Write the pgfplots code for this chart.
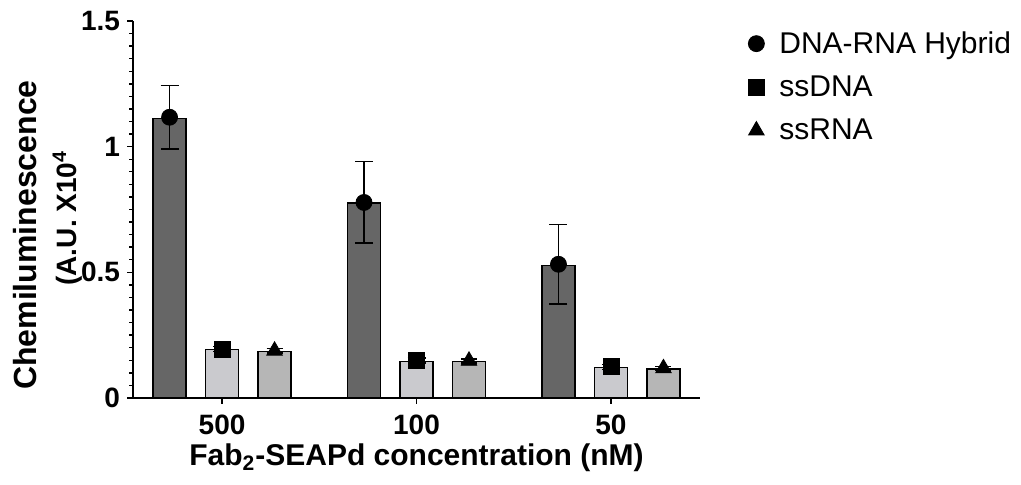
\documentclass[border=0pt]{standalone}
\usepackage{pgfplots}
\pgfplotsset{compat=1.18}
\usepackage{fontspec}
\setmainfont{Liberation Sans}
\definecolor{hyb}{RGB}{102,102,102}
\definecolor{sdna}{RGB}{202,202,206}
\definecolor{srna}{RGB}{182,182,182}
\begin{document}
\begin{tikzpicture}
\useasboundingbox (0,0) rectangle (510.5pt,242.5pt);
\begin{axis}[
    at={(66.5pt,43.5pt)}, anchor=south west,
    scale only axis, width=283.5pt, height=188.5pt,
    xmin=-0.458, xmax=2.458, ymin=0, ymax=1.5,
    axis lines=left,
    axis line style={line width=1pt, -},
    xtick={0,1,2}, xticklabels={500,100,50},
    ytick={0,0.5,1,1.5}, minor y tick num=9,
    tick align=outside,
    major tick length=3pt, minor tick length=2pt,
    every tick/.style={black, line width=0.7pt},
    /pgf/number format/assume math mode=true,
    tick label style={font=\bfseries\fontsize{14}{14}\selectfont},
    xticklabel style={yshift=-2pt},
    xlabel={Fab\textsubscript{2}-SEAPd concentration (nM)},
    xlabel style={font=\bfseries\fontsize{15}{18}\selectfont, yshift=2.5pt},
    ylabel={Chemiluminescence\\[2pt]{\fontsize{14}{16}\selectfont\makebox[17pt]{}(A.U. X10\textsuperscript{4}}},
    ylabel style={at={(rel axis cs:-0.2116,0.432)}, anchor=north, align=center,
        inner sep=0pt, font=\bfseries\fontsize{16}{18}\selectfont},
    legend style={at={(rel axis cs:1.074,0.995)}, anchor=north west,
        draw=none, fill=none, font=\fontsize{15}{18}\selectfont, row sep=5.75pt,
        /tikz/every odd column/.append style={column sep=5.5pt}},
    legend cell align=left,
    clip=false,
]
% bars (means)
\addplot[ybar, bar width=16.5pt, bar shift=0pt, fill=hyb, draw=black, line width=0.7pt, forget plot]
    coordinates {(-0.27,1.112) (0.73,0.776) (1.73,0.528)};
\addplot[ybar, bar width=16.5pt, bar shift=0pt, fill=sdna, draw=black, line width=0.7pt, forget plot]
    coordinates {(0,0.192) (1,0.146) (2,0.121)};
\addplot[ybar, bar width=16.5pt, bar shift=0pt, fill=srna, draw=black, line width=0.7pt, forget plot]
    coordinates {(0.27,0.185) (1.27,0.145) (2.27,0.115)};
% points with error bars
\addplot[only marks, mark=*, mark size=4pt, black,
    error bars/.cd, y dir=both, y explicit,
    error bar style={line width=0.75pt},
    error mark options={rotate=90, mark size=4.5pt, line width=0.75pt}]
    coordinates {(-0.27,1.117) +- (0,0.127) (0.73,0.778) +- (0,0.162) (1.73,0.532) +- (0,0.158)};
\addlegendentry{DNA-RNA Hybrid}
\addplot[only marks, mark=square*, mark size=4pt, black,
    error bars/.cd, y dir=both, y explicit,
    error bar style={line width=0.75pt},
    error mark options={rotate=90, mark size=4.5pt, line width=0.75pt}]
    coordinates {(0,0.195) +- (0,0.01) (1,0.149) +- (0,0.01) (2,0.124) +- (0,0.01)};
\addlegendentry{ssDNA}
\addplot[only marks, mark=triangle*, mark size=4.5pt, black,
    error bars/.cd, y dir=both, y explicit,
    error bar style={line width=0.75pt},
    error mark options={rotate=90, mark size=4pt, line width=0.75pt}]
    coordinates {(0.27,0.188) +- (0,0.008) (1.27,0.148) +- (0,0.008) (2.27,0.118) +- (0,0.008)};
\addlegendentry{ssRNA}
\end{axis}
\end{tikzpicture}
\end{document}
